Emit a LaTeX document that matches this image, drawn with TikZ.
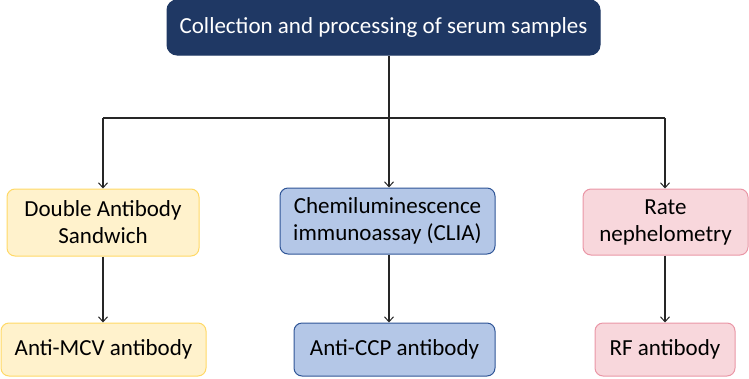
\documentclass[tikz,border=0pt]{standalone}
\usepackage{fontspec}
\setmainfont{Carlito}
\usetikzlibrary{arrows.meta}
\definecolor{navy}{RGB}{31,56,100}
\definecolor{yfill}{RGB}{255,242,204}
\definecolor{ydraw}{RGB}{255,217,102}
\definecolor{bfill}{RGB}{180,199,231}
\definecolor{bdraw}{RGB}{47,85,151}
\definecolor{pfill}{RGB}{248,215,220}
\definecolor{pdraw}{RGB}{234,150,166}
\tikzset{
  box/.style={rounded corners=8pt, line width=1pt, align=center, inner sep=0pt,
    font=\fontsize{23}{27}\selectfont, text=black},
  ybox/.style={box, fill=yfill, draw=ydraw},
  bbox/.style={box, fill=bfill, draw=bdraw},
  pbox/.style={box, fill=pfill, draw=pdraw},
  conn/.style={line width=1.1pt, draw=black!85},
  arr/.style={conn, -{Straight Barb[length=5pt,width=9pt,line width=1pt]}},
}
\begin{document}
\begin{tikzpicture}[x=1pt,y=-1pt]
\useasboundingbox (0,0) rectangle (749,378);
\node[box, fill=navy, draw=navy, text=white, minimum width=433pt, minimum height=55pt,
  rounded corners=10pt] (top) at (383.5,27.5) {Collection and processing of serum samples};
\node[ybox, minimum width=192pt, minimum height=67pt] (l1) at (103,222.5) {Double Antibody\\Sandwich};
\node[bbox, minimum width=215pt, minimum height=66pt] (m1) at (387.5,221) {Chemiluminescence\\immunoassay (CLIA)};
\node[pbox, minimum width=165pt, minimum height=66pt] (r1) at (665.5,222) {Rate\\nephelometry};
\node[ybox, minimum width=205pt, minimum height=53pt] (l2) at (103.5,349.5) {Anti-MCV antibody};
\node[bbox, minimum width=201pt, minimum height=53pt] (m2) at (394.5,349.5) {Anti-CCP antibody};
\node[pbox, minimum width=140pt, minimum height=53pt] (r2) at (665,349.5) {RF antibody};
\coordinate (j) at (389,118);
\coordinate (jl) at (103,118);
\coordinate (jr) at (665,118);
\draw[conn] (j |- top.south) -- (j);
\draw[conn] (jl) -- (jr);
\draw[arr] (jl) -- (jl |- l1.north);
\draw[arr] (j) -- (j |- m1.north);
\draw[arr] (jr) -- (jr |- r1.north);
\draw[arr] (l1.south -| jl) -- (jl |- l2.north);
\draw[arr] ([xshift=1.5pt]m1.south) -- ([xshift=1.5pt]m1.south |- m2.north);
\draw[arr] (r1.south -| jr) -- (jr |- r2.north);
\end{tikzpicture}
\end{document}
